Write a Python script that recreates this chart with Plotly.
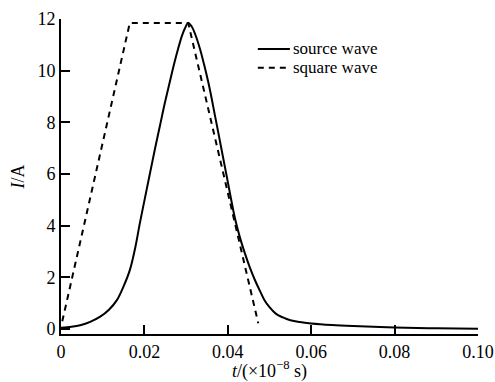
import plotly.graph_objects as go

# source wave (t in 1e-8 s, I in A)
src_t = [0.0, 0.0025, 0.0046, 0.007, 0.0094, 0.0115, 0.0134, 0.015, 0.0165, 0.0178, 0.0189,
         0.0201, 0.0213, 0.0225, 0.0237, 0.0249, 0.0261, 0.0271, 0.0281, 0.029, 0.0297, 0.0305,
         0.0313, 0.0322, 0.0333, 0.0343, 0.0353, 0.0361, 0.0369, 0.0377, 0.0385, 0.0397, 0.0407,
         0.0417, 0.0429, 0.0441, 0.0453, 0.0465, 0.0477, 0.0488, 0.05, 0.0515, 0.0532, 0.055,
         0.0573, 0.06, 0.065, 0.07, 0.08, 0.09, 0.10]
src_i = [0.05, 0.09, 0.15, 0.28, 0.48, 0.75, 1.12, 1.65, 2.28, 3.15, 4.09,
         5.05, 6.0, 6.95, 7.85, 8.75, 9.57, 10.25, 10.86, 11.35, 11.63, 11.85,
         11.72, 11.4, 10.86, 10.25, 9.57, 8.95, 8.28, 7.62, 6.95, 5.95, 5.1,
         4.3, 3.55, 2.93, 2.38, 1.9, 1.48, 1.12, 0.85, 0.6, 0.45, 0.34,
         0.27, 0.22, 0.16, 0.12, 0.06, 0.03, 0.01]

# square wave
sq_t = [0.0003, 0.0165, 0.0305, 0.0473]
sq_i = [0.3, 11.85, 11.85, 0.23]

xtick_vals = [0, 0.02, 0.04, 0.06, 0.08, 0.10]
xtick_text = ["0", "0.02", "0.04", "0.06", "0.08", "0.10"]
ytick_vals = [0, 2, 4, 6, 8, 10, 12]
ytick_text = ["0", "2", "4", "6", "8", "10", "12"]

series_names = ["source wave", "square wave"]

FONT = "Liberation Serif, Times New Roman, serif"
FS = 18
LFS = 17

fig = go.Figure()
fig.add_trace(go.Scatter(x=src_t, y=src_i, mode="lines", name=series_names[0],
                         line=dict(color="black", width=2, shape="spline", smoothing=1.0)))
fig.add_trace(go.Scatter(x=sq_t, y=sq_i, mode="lines", name=series_names[1],
                         line=dict(color="black", width=2, dash="6px,5px")))

axis_common = dict(showline=True, linecolor="black", linewidth=2, ticks="inside",
                   ticklen=9, tickwidth=2, tickcolor="black", showgrid=False, zeroline=False,
                   automargin=False,
                   tickfont=dict(family=FONT, size=FS, color="black"))

# manual legend (compact rows as in the reference)
leg_y = [0.905, 0.845]
leg_dash = ["solid", "6px,5px"]
shapes = []
annotations = []
for name, yy, dsh in zip(series_names, leg_y, leg_dash):
    shapes.append(dict(type="line", xref="paper", yref="paper", x0=0.472, x1=0.549, y0=yy, y1=yy,
                       line=dict(color="black", width=2, dash=dsh)))
    annotations.append(dict(xref="paper", yref="paper", x=0.553, y=yy, xanchor="left", yanchor="middle",
                            text=name, showarrow=False, borderpad=0,
                            font=dict(family=FONT, size=LFS, color="black")))

fig.update_layout(
    width=495, height=382,
    margin=dict(l=61, r=17, t=19, b=48),
    paper_bgcolor="white", plot_bgcolor="white",
    font=dict(family=FONT, color="black", size=FS),
    xaxis=dict(range=[0, 0.1], tickvals=xtick_vals, ticktext=xtick_text,
               title=dict(text="<i>t</i>/(×10<sup>−8</sup> s)", font=dict(family=FONT, size=FS), standoff=0),
               **axis_common),
    yaxis=dict(range=[-0.19, 12], tickvals=ytick_vals, ticktext=ytick_text,
               title=dict(text="<i>I</i>/A", font=dict(family=FONT, size=FS), standoff=8),
               **axis_common),
    showlegend=False,
    shapes=shapes,
    annotations=annotations,
)

fig.write_html("out.html")
